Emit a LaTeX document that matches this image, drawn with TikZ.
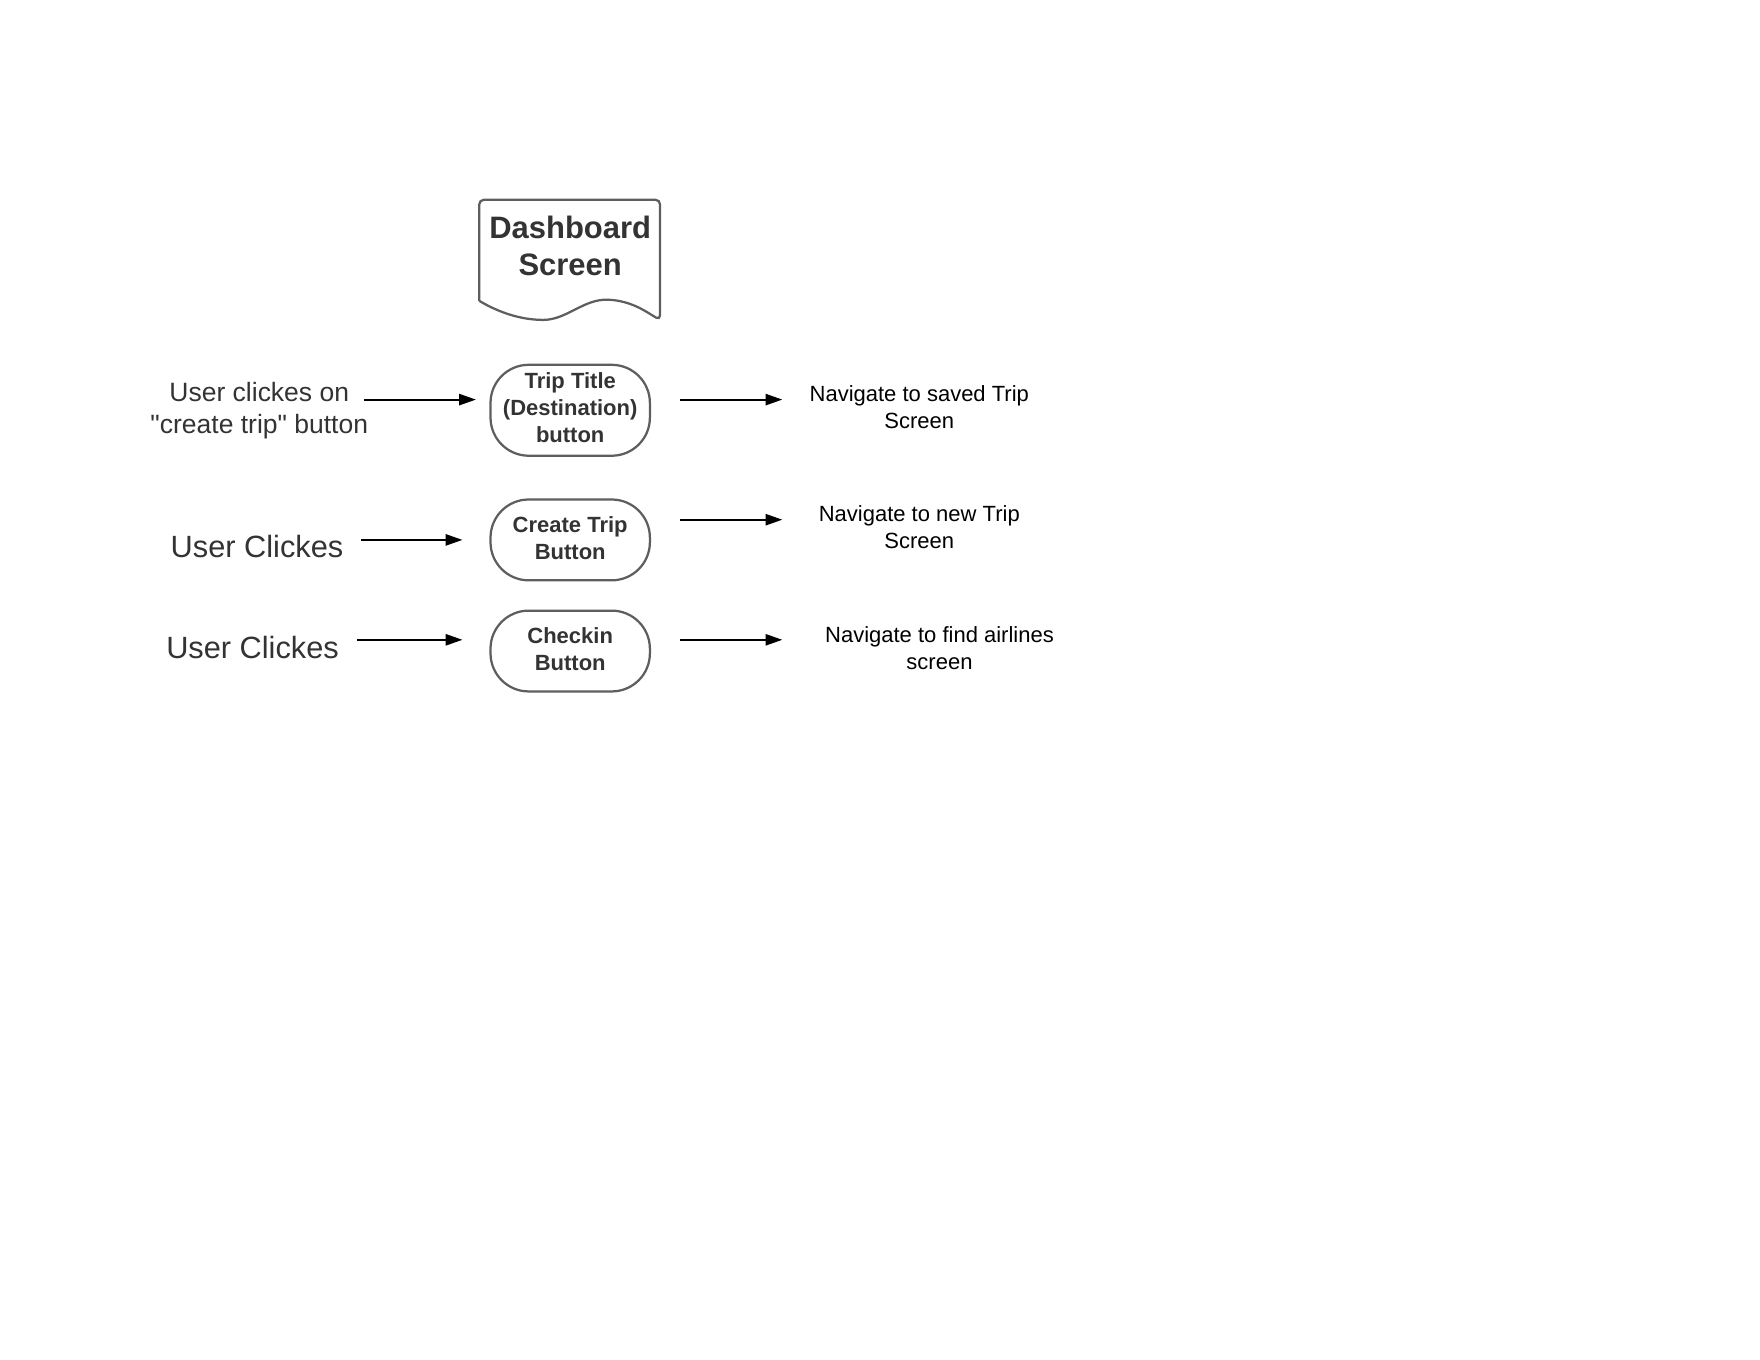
\documentclass[tikz,border=0pt]{standalone}
\usepackage{fontspec}
\setmainfont{Liberation Sans}[Ligatures=TeXOff]
\usetikzlibrary{arrows.meta}
\definecolor{txtgray}{HTML}{333333}
\definecolor{linegray}{HTML}{5E5E5E}
\tikzset{
  pill/.style={draw=linegray, line width=1pt, rounded corners=17pt, minimum width=71pt, align=center, inner sep=0pt, text=txtgray, font=\fontsize{9.8}{12}\selectfont\bfseries},
  pilltxt/.style={align=center, inner sep=0pt, text=txtgray, font=\fontsize{9.8}{12}\selectfont\bfseries},
  conn/.style={-{Triangle[length=7.5pt,width=5pt]}, line width=0.9pt, black},
  leftlbl/.style={align=center, text=txtgray, inner sep=0pt},
  navlbl/.style={align=center, text=black, inner sep=0pt, font=\fontsize{9.8}{12}\selectfont},
}
\begin{document}
\begin{tikzpicture}[x=0.5pt, y=-0.5pt]
\useasboundingbox (0,0) rectangle (1568,1211.6);
% document shape
\draw[linegray, line width=1pt, fill=white, rounded corners=2pt]
  (427,268) -- (427,178) -- (588,178) -- (588,285) [sharp corners]
  .. controls (576,278) and (563,268) .. (542,267)
  .. controls (520,266) and (505,285) .. (484,285)
  .. controls (462,285) and (442,277) .. (427,268);
\node[text=txtgray, align=center, inner sep=0pt, font=\fontsize{13.8}{16.5}\selectfont\bfseries] (dash) at (508,219) {Dashboard\\Screen};
% pills
\node[pill, minimum height=40.5pt] (p1) at (508,365.5) {};
\node[pill, minimum height=36pt] (p2) at (508,481) {};
\node[pill, minimum height=36pt] (p3) at (508,580) {};
\node[pilltxt] (t1) at (508,363.5) {Trip Title\\(Destination)\\button};
\node[pilltxt] (t2) at (508,479) {Create Trip\\Button};
\node[pilltxt] (t3) at (508,578) {Checkin\\Button};
% left labels
\node[leftlbl, font=\fontsize{11.8}{14}\selectfont] (l1) at (231,366) {User clickes on\\"create trip" button};
\node[leftlbl, font=\fontsize{13.7}{16}\selectfont] (l2) at (229,487) {User Clickes};
\node[leftlbl, font=\fontsize{13.7}{16}\selectfont] (l3) at (225,577) {User Clickes};
% right labels
\node[navlbl] (r1) at (819,363) {Navigate to saved Trip\\Screen};
\node[navlbl] (r2) at (819,470) {Navigate to new Trip\\Screen};
\node[navlbl] (r3) at (837,577) {Navigate to find airlines\\screen};
% arrow end points
\coordinate (a1s) at (324,356); \coordinate (a1e) at (424,356);
\coordinate (a2s) at (322,481); \coordinate (a2e) at (412,481);
\coordinate (a3s) at (318,570); \coordinate (a3e) at (412,570);
\coordinate (b1s) at (606,356); \coordinate (b1e) at (697,356);
\coordinate (b2s) at (606,463); \coordinate (b2e) at (697,463);
\coordinate (b3s) at (606,570); \coordinate (b3e) at (697,570);
\draw[conn] (a1s) -- (a1e);
\draw[conn] (a2s) -- (a2e);
\draw[conn] (a3s) -- (a3e);
\draw[conn] (b1s) -- (b1e);
\draw[conn] (b2s) -- (b2e);
\draw[conn] (b3s) -- (b3e);
\end{tikzpicture}
\end{document}
